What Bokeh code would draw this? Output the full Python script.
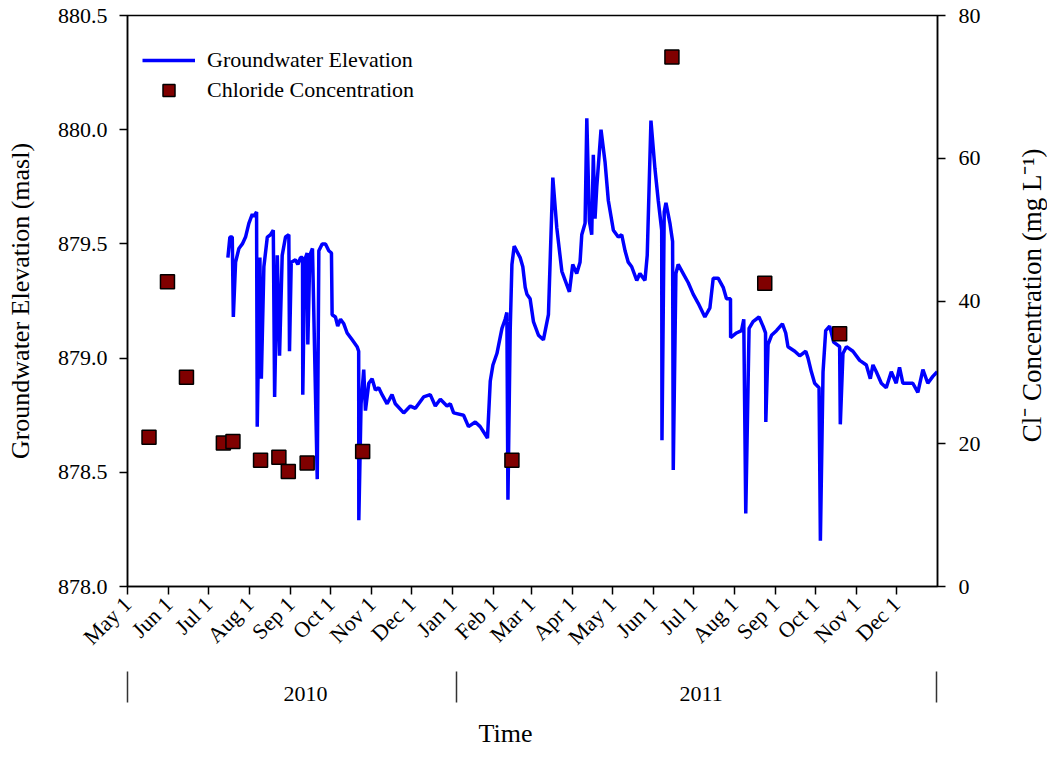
import math
import pandas as pd
from bokeh.plotting import figure
from bokeh.layouts import row
from bokeh.core.properties import value
from bokeh.models import (Range1d, LinearAxis, FixedTicker, CustomJSTickFormatter,
                          Legend, LegendItem, Title, NumeralTickFormatter)
from bokeh.embed import file_html
from bokeh.resources import INLINE

# ---------------- data ----------------
START = "2010-05-01"          # day 0 of the record
END = "2012-01-01"

# groundwater elevation: days since 1 May 2010, elevation (masl)
gw_day = [75.6, 77.1, 78.9, 79.7, 81.4, 83.9, 86.5, 88.9, 91.4, 94.0,
          95.2, 97.2, 97.7, 99.7, 100.8, 102.7, 105.3, 107.7, 109.8, 110.8,
          112.8, 114.5, 116.5, 119.0, 121.5, 122.0, 123.3, 126.5, 128.3, 130.3,
          131.8, 132.0, 133.5, 135.3, 135.8, 137.3, 139.3, 142.9, 144.1, 146.6,
          149.1, 151.6, 153.6, 154.1, 156.6, 158.3, 160.4, 162.9, 165.4, 169.2,
          172.9, 174.1, 174.2, 175.9, 177.9, 179.2, 181.7, 184.2, 186.7, 189.2,
          191.7, 195.5, 199.2, 201.7, 208.0, 213.0, 216.8, 223.0, 228.0, 231.8,
          235.6, 240.6, 243.1, 245.6, 253.1, 256.8, 261.9, 265.6, 271.1, 273.2,
          275.2, 278.2, 282.0, 284.4, 285.7, 286.5, 288.2, 289.5, 291.2, 295.7,
          297.7, 299.5, 300.8, 303.2, 305.7, 309.5, 313.2, 317.0, 320.3, 323.3,
          327.1, 332.8, 335.3, 338.3, 340.8, 342.1, 344.6, 345.9, 347.8, 349.6,
          350.8, 352.1, 353.4, 356.6, 359.6, 362.1, 365.9, 369.6, 372.2, 374.7,
          377.1, 379.7, 383.5, 385.9, 389.7, 391.4, 394.2, 397.2, 399.7, 402.3,
          402.5, 404.2, 405.5, 408.5, 410.5, 411.0, 413.0, 414.7, 418.5, 422.3,
          426.0, 429.8, 434.8, 438.6, 441.1, 444.8, 448.6, 451.1, 454.1, 454.2,
          458.6, 462.4, 464.1, 465.6, 468.1, 471.1, 475.6, 478.6, 480.5, 480.7,
          482.4, 485.0, 488.7, 493.2, 495.7, 497.4, 502.5, 506.2, 510.8, 512.5,
          515.0, 517.5, 520.8, 521.8, 523.8, 525.8, 528.8, 531.8, 536.3, 536.8,
          538.8, 541.4, 546.3, 551.4, 556.4, 559.4, 561.4, 563.9, 567.7, 571.4,
          575.2, 578.9, 581.4, 583.9, 587.7, 591.4, 595.2, 599.0, 602.7, 606.5,
          609.8]
gw_elev = [879.44, 879.53, 879.53, 879.18, 879.42, 879.48, 879.50, 879.53, 879.59, 879.63,
           879.62, 879.64, 878.70, 879.44, 878.91, 879.40, 879.53, 879.54, 879.56, 878.83,
           879.45, 879.01, 879.45, 879.53, 879.54, 879.03, 879.42, 879.43, 879.41, 879.44,
           879.44, 878.84, 879.43, 879.46, 879.06, 879.45, 879.48, 878.47, 879.47, 879.50,
           879.50, 879.47, 879.46, 879.19, 879.18, 879.14, 879.17, 879.15, 879.11, 879.08,
           879.05, 879.03, 878.29, 878.80, 878.95, 878.77, 878.89, 878.91, 878.86, 878.87,
           878.84, 878.80, 878.84, 878.80, 878.76, 878.79, 878.78, 878.83, 878.84, 878.79,
           878.82, 878.79, 878.80, 878.76, 878.75, 878.70, 878.72, 878.70, 878.65, 878.90,
           878.97, 879.02, 879.13, 879.17, 879.20, 878.38, 879.12, 879.41, 879.49, 879.44,
           879.40, 879.31, 879.28, 879.26, 879.16, 879.10, 879.08, 879.19, 879.79, 879.57,
           879.38, 879.29, 879.41, 879.37, 879.42, 879.54, 879.59, 880.05, 879.60, 879.54,
           879.89, 879.61, 879.75, 880.00, 879.86, 879.69, 879.56, 879.53, 879.54, 879.47,
           879.42, 879.40, 879.34, 879.37, 879.34, 879.45, 880.04, 879.83, 879.69, 879.56,
           878.64, 879.64, 879.68, 879.59, 879.51, 878.51, 879.37, 879.41, 879.37, 879.33,
           879.28, 879.24, 879.18, 879.22, 879.35, 879.35, 879.31, 879.26, 879.26, 879.09,
           879.11, 879.12, 879.17, 878.32, 879.13, 879.16, 879.18, 879.14, 879.11, 878.72,
           879.06, 879.10, 879.12, 879.15, 879.11, 879.05, 879.03, 879.01, 879.03, 879.00,
           878.94, 878.89, 878.87, 878.20, 878.94, 879.12, 879.14, 879.07, 879.05, 878.71,
           879.02, 879.05, 879.03, 878.99, 878.97, 878.91, 878.97, 878.94, 878.89, 878.87,
           878.94, 878.89, 878.96, 878.89, 878.89, 878.89, 878.85, 878.95, 878.89, 878.92,
           878.94]

# chloride samples: days since 1 May 2010, concentration (mg/L)
cl_day = [16.2, 30.1, 44.4, 72.2, 79.4, 100.2, 114.0, 121.1, 135.3, 177.1,
          289.5, 410.0, 479.9, 536.3]
cl_conc = [20.9, 42.7, 29.3, 20.1, 20.3, 17.7, 18.1, 16.1, 17.3, 18.9,
           17.7, 74.2, 42.5, 35.4]

month_ticks = ["2010-05-01", "2010-06-01", "2010-07-01", "2010-08-01", "2010-09-01",
               "2010-10-01", "2010-11-01", "2010-12-01", "2011-01-01", "2011-02-01",
               "2011-03-01", "2011-04-01", "2011-05-01", "2011-06-01", "2011-07-01",
               "2011-08-01", "2011-09-01", "2011-10-01", "2011-11-01", "2011-12-01"]
month_labels = ["May 1", "Jun 1", "Jul 1", "Aug 1", "Sep 1", "Oct 1", "Nov 1", "Dec 1",
                "Jan 1", "Feb 1", "Mar 1", "Apr 1", "May 1", "Jun 1", "Jul 1", "Aug 1",
                "Sep 1", "Oct 1", "Nov 1", "Dec 1"]
year_labels = ["2010", "2011"]
year_label_at = ["2010-09-12", "2011-07-07"]
year_bounds = ["2010-05-01", "2011-01-04", "2011-12-31"]

right_title = "Cl\u207b Concentration (mg L\u207b\u00b9)"

FONT = "Liberation Serif"


def ms(dates):
    idx = pd.to_datetime(pd.Index(dates))
    return [float(v) for v in (idx - pd.Timestamp(0)).total_seconds() * 1000.0]


start = pd.Timestamp(START)
gw_x = ms(start + pd.to_timedelta(gw_day, unit="D"))
cl_x = ms(start + pd.to_timedelta(cl_day, unit="D"))
month_ms = ms(month_ticks)
year_ms = ms(year_label_at)
bound_ms = ms(year_bounds)
x0, x1 = ms([START, END])

MAIN_W, SIDE_W, H = 1000, 47, 761

p = figure(width=MAIN_W, height=H, output_backend="svg", toolbar_location=None,
           x_axis_type="datetime",
           x_range=Range1d(x0, x1), y_range=Range1d(878.0, 880.5),
           min_border_left=127, min_border_right=63, min_border_top=15,
           min_border_bottom=175)
p.extra_y_ranges = {"cl": Range1d(0, 80)}
p.xgrid.visible = False
p.ygrid.visible = False
p.outline_line_color = "black"
p.outline_line_width = 1.5
p.background_fill_color = "white"
p.border_fill_color = "white"

line_r = p.line(gw_x, gw_elev, line_color="#0000FF", line_width=3.5)
sq_r = p.scatter(cl_x, cl_conc, y_range_name="cl", marker="square", size=14,
                 fill_color="#800000", line_color="black", line_width=1.5)


def style_axis(ax):
    ax.axis_line_color = "black"
    ax.axis_line_width = 1.5
    ax.major_tick_line_color = "black"
    ax.major_tick_line_width = 1.5
    ax.major_tick_in = 0
    ax.major_tick_out = 8
    ax.minor_tick_line_color = None
    ax.major_label_text_font = FONT
    ax.major_label_text_font_size = "22px"
    ax.major_label_text_color = "black"
    ax.axis_label_text_font = FONT
    ax.axis_label_text_font_size = "26px"
    ax.axis_label_text_font_style = "normal"
    ax.axis_label_text_color = "black"


# left axis
ly = p.yaxis[0]
style_axis(ly)
ly.ticker = FixedTicker(ticks=[878.0, 878.5, 879.0, 879.5, 880.0, 880.5])
ly.formatter = NumeralTickFormatter(format="0.0")
ly.major_label_standoff = 12
ly.axis_label = "Groundwater Elevation (masl)"
ly.axis_label_standoff = 20

# right axis
ry = LinearAxis(y_range_name="cl")
style_axis(ry)
ry.ticker = FixedTicker(ticks=[0, 20, 40, 60, 80])
ry.major_label_standoff = 13
p.add_layout(ry, "right")

LOOKUP = """
    const i = tvals.findIndex(t => Math.abs(t - tick) < 4e7);
    return i >= 0 ? tlabels[i] : "";
"""

# bottom axis (months)
bx = p.xaxis[0]
style_axis(bx)
bx.ticker = FixedTicker(ticks=month_ms)
bx.formatter = CustomJSTickFormatter(args=dict(tvals=month_ms, tlabels=month_labels),
                                     code=LOOKUP)
bx.major_label_orientation = math.pi / 4
bx.major_label_standoff = 6

# second bottom axis (years with separators)
yx = LinearAxis(ticker=FixedTicker(ticks=year_ms, minor_ticks=bound_ms))
yx.formatter = CustomJSTickFormatter(args=dict(tvals=year_ms, tlabels=year_labels),
                                     code=LOOKUP)
yx.axis_line_color = None
yx.major_tick_line_color = None
yx.minor_tick_line_color = "#333333"
yx.minor_tick_line_width = 1.5
yx.minor_tick_in = -10
yx.minor_tick_out = 41
yx.major_label_standoff = -16
yx.major_label_text_font = FONT
yx.major_label_text_font_size = "22px"
yx.major_label_text_color = "black"
p.add_layout(yx, "below")

p.add_layout(Title(text="Time", align="left", offset=351, text_font=FONT,
                   text_font_size="26px", text_font_style="normal",
                   text_color="black", standoff=27), "below")

legend = Legend(items=[LegendItem(label="Groundwater Elevation", renderers=[line_r]),
                       LegendItem(label="Chloride Concentration", renderers=[sq_r])],
                location=(15, 481), padding=0, margin=0, spacing=0,
                glyph_width=53, glyph_height=30, label_standoff=12,
                label_text_font=FONT, label_text_font_size="22px",
                label_text_color="black",
                border_line_color=None, background_fill_alpha=0)
p.add_layout(legend)

# narrow side panel carrying the right-hand axis title (reads bottom-to-top)
side = figure(width=SIDE_W, height=H, output_backend="svg", toolbar_location=None,
              x_range=Range1d(0, SIDE_W), y_range=Range1d(0, H),
              x_axis_location=None, y_axis_location=None, min_border=0)
side.outline_line_color = None
side.grid.visible = False
side.background_fill_color = "white"
side.border_fill_color = "white"
side.text(x=[31], y=[H - 373], text=[right_title], angle=math.pi / 2,
          text_align="center", text_baseline="middle",
          text_font=value(FONT), text_font_size="27px", text_color="black")

layout = row(p, side, spacing=0)
open("out.html", "w").write(file_html(layout, INLINE))
